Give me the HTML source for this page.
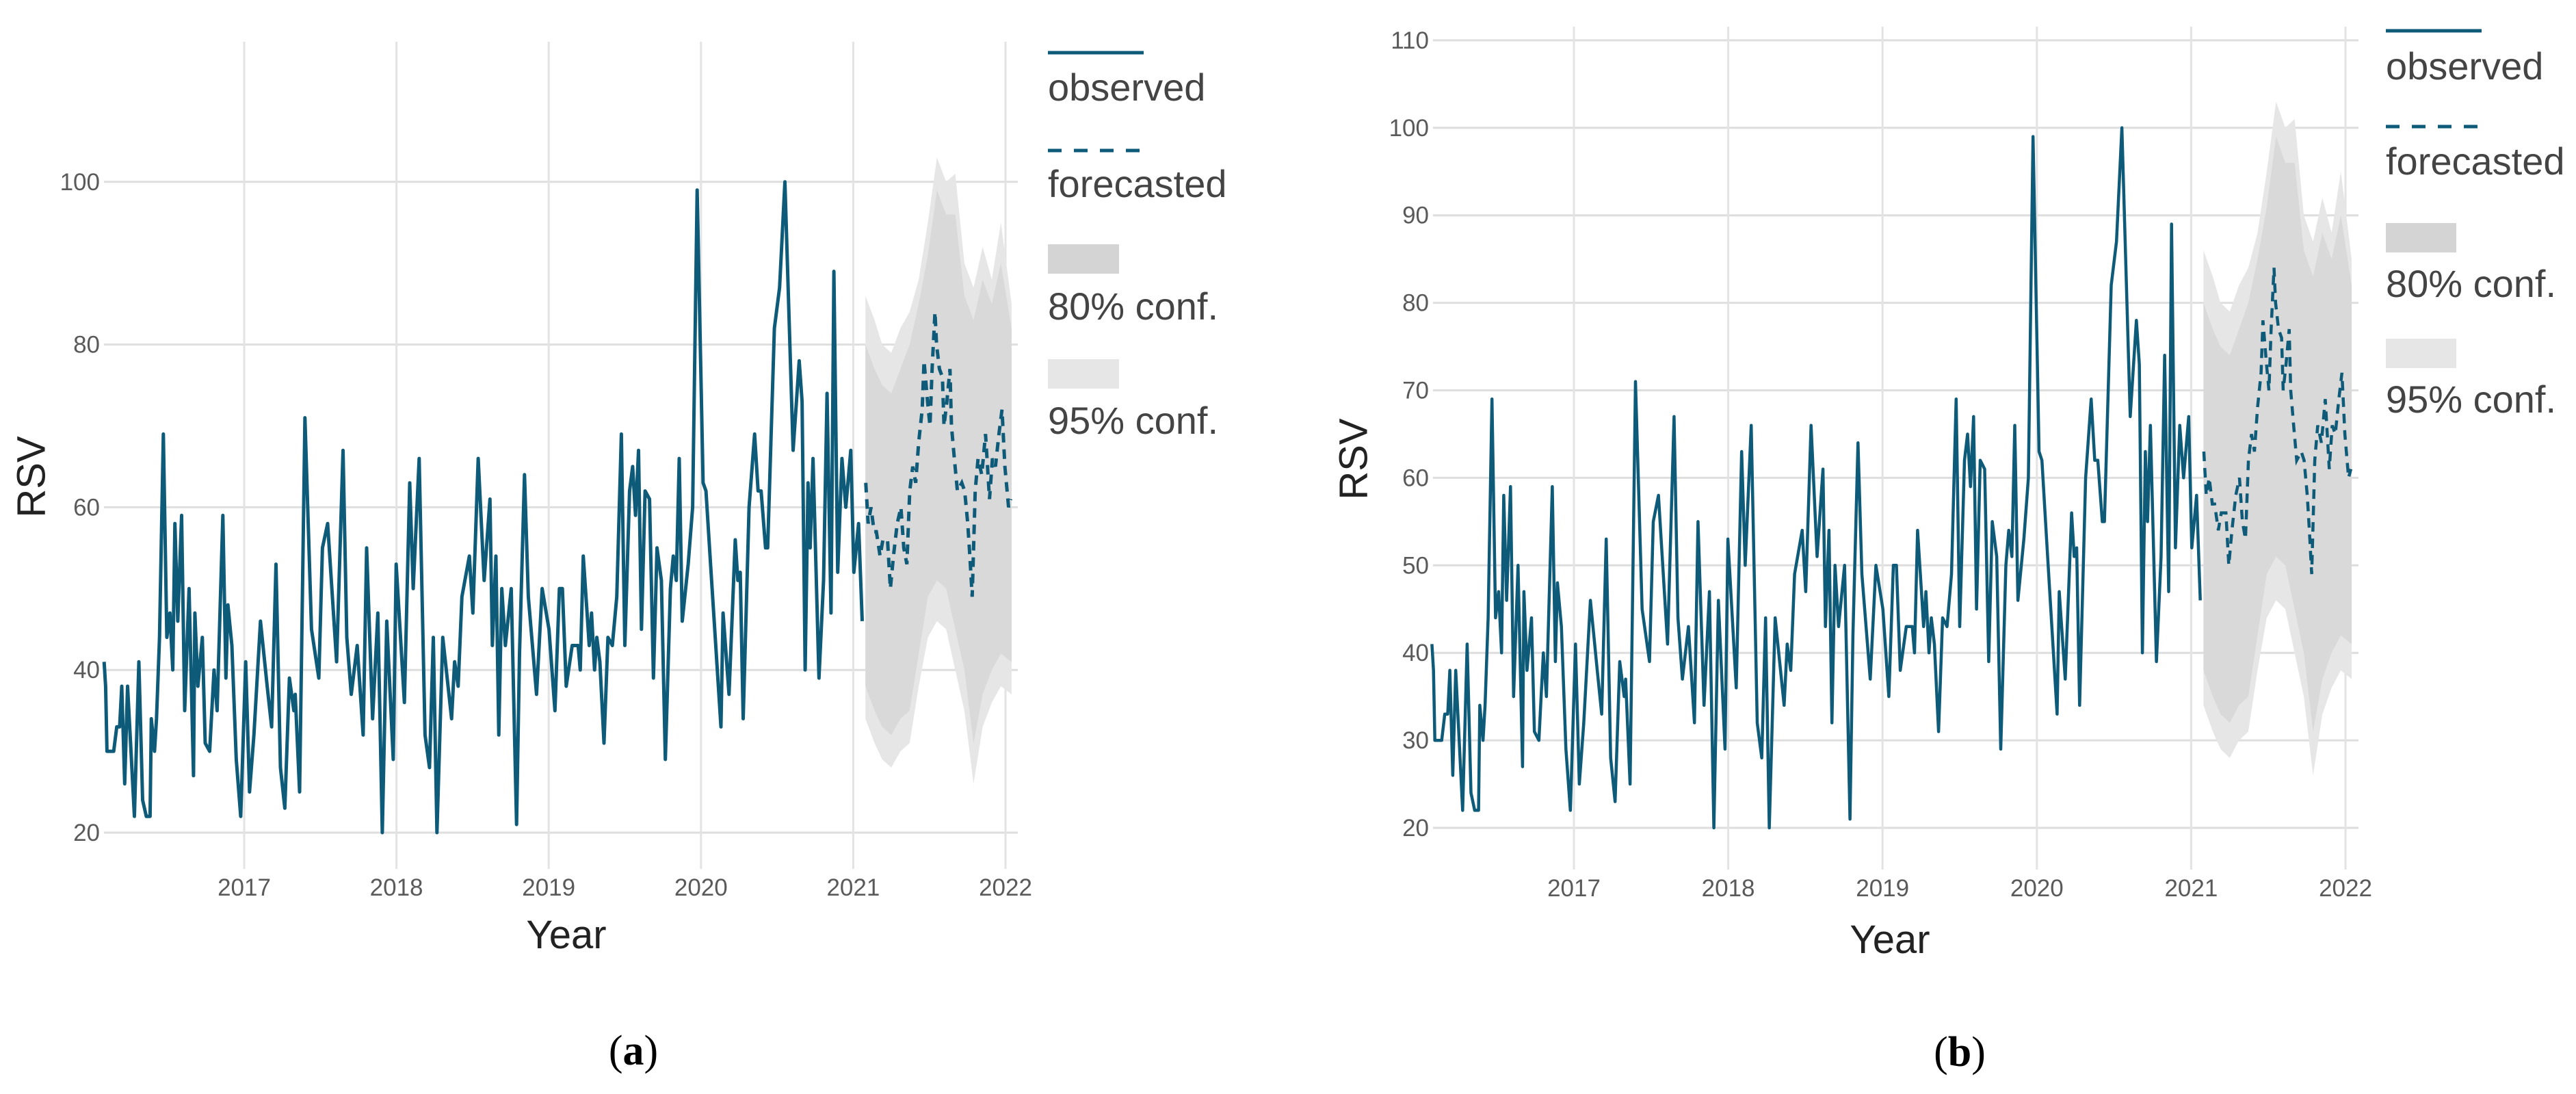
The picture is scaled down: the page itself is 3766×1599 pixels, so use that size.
<!DOCTYPE html>
<html><head><meta charset="utf-8"><style>
html,body{margin:0;padding:0;background:#fff;}
svg{display:block;font-family:"Liberation Sans",sans-serif;}
</style></head>
<body>
<svg id="chart" width="3766" height="1599" viewBox="0 0 3766 1599" xmlns="http://www.w3.org/2000/svg">
<g id="panelA"></g>
<g id="panelB"></g>
</svg>
<script>
const obsDates = [2016.08,2016.09,2016.099,2016.143,2016.163,2016.182,2016.196,2016.215,2016.234,2016.279,2016.308,2016.333,2016.357,2016.382,2016.390,2016.411,2016.424,2016.444,2016.469,2016.492,2016.512,2016.531,2016.545,2016.564,2016.589,2016.609,2016.638,2016.667,2016.676,2016.696,2016.725,2016.744,2016.773,2016.802,2016.822,2016.860,2016.880,2016.893,2016.919,2016.948,2016.977,2017.010,2017.035,2017.064,2017.107,2017.151,2017.180,2017.209,2017.238,2017.267,2017.297,2017.326,2017.335,2017.364,2017.399,2017.442,2017.490,2017.514,2017.548,2017.607,2017.649,2017.674,2017.703,2017.742,2017.781,2017.804,2017.843,2017.878,2017.907,2017.936,2017.979,2017.998,2018.052,2018.087,2018.110,2018.149,2018.188,2018.217,2018.242,2018.266,2018.304,2018.362,2018.382,2018.405,2018.430,2018.479,2018.502,2018.537,2018.576,2018.614,2018.630,2018.653,2018.672,2018.692,2018.715,2018.754,2018.789,2018.808,2018.841,2018.866,2018.920,2018.957,2019.002,2019.041,2019.070,2019.090,2019.115,2019.154,2019.193,2019.207,2019.227,2019.252,2019.266,2019.281,2019.301,2019.316,2019.336,2019.363,2019.389,2019.418,2019.447,2019.477,2019.500,2019.531,2019.551,2019.570,2019.590,2019.609,2019.633,2019.662,2019.688,2019.711,2019.740,2019.766,2019.799,2019.818,2019.838,2019.857,2019.877,2019.916,2019.945,2019.975,2020.014,2020.033,2020.063,2020.131,2020.145,2020.184,2020.225,2020.242,2020.258,2020.277,2020.316,2020.352,2020.375,2020.395,2020.424,2020.438,2020.482,2020.516,2020.551,2020.605,2020.645,2020.664,2020.684,2020.703,2020.717,2020.736,2020.775,2020.805,2020.828,2020.854,2020.873,2020.898,2020.926,2020.951,2020.984,2021.004,2021.035,2021.059];
const obsValues = [41,38,30,30,33,33,38,26,38,22,41,24,22,22,34,30,34,44,69,44,47,40,58,46,59,35,50,27,47,38,44,31,30,40,35,59,39,48,43,29,22,41,25,32,46,38,33,53,28,23,39,35,37,25,71,45,39,55,58,41,67,44,37,43,32,55,34,47,20,46,29,53,36,63,50,66,32,28,44,20,44,34,41,38,49,54,47,66,51,61,43,54,32,50,43,50,21,42,64,49,37,50,45,35,50,50,38,43,43,40,54,47,43,47,40,44,41,31,44,43,49,69,43,62,65,59,67,45,62,61,39,55,51,29,50,54,51,66,46,53,60,99,63,62,53,33,47,37,56,51,52,34,60,69,62,62,55,55,82,87,100,67,78,73,40,63,55,66,39,51,74,47,89,52,66,60,67,52,58,46];
const fcDates = [2021.082,2021.098,2021.117,2021.137,2021.152,2021.176,2021.195,2021.225,2021.244,2021.264,2021.289,2021.313,2021.332,2021.352,2021.371,2021.391,2021.410,2021.430,2021.453,2021.465,2021.488,2021.504,2021.518,2021.537,2021.547,2021.566,2021.586,2021.596,2021.615,2021.635,2021.645,2021.664,2021.684,2021.713,2021.732,2021.752,2021.766,2021.781,2021.801,2021.820,2021.844,2021.869,2021.895,2021.914,2021.934,2021.957,2021.977,2021.996,2022.020,2022.035];
const fcValues = [63,58,60,57,57,54,56,56,50,54,58,60,55,53,62,65,63,68,72,78,73,70,77,84,80,77,76,70,73,77,70,66,62,63,62,58,54,49,62,66,64,69,61,66,65,69,72,65,60,61];
const bandDates = [2021.08,2021.14,2021.19,2021.25,2021.31,2021.37,2021.43,2021.49,2021.55,2021.61,2021.67,2021.73,2021.79,2021.85,2021.91,2021.97,2022.04];
const hi95 = [86,83,80,79,82,84,88,95,103,100,101,90,87,92,88,95,85];
const lo95 = [34,31,29,28,30,31,38,44,46,45,40,35,26,33,36,38,37];
const hi80 = [80,77,75,74,77,80,85,91,99,96,96,86,83,88,85,90,82];
const lo80 = [38,35,33,32,34,35,42,49,51,50,45,40,31,37,40,42,41];
const xTicks = [2017,2018,2019,2020,2021,2022];
const yTicksA = [20,40,60,80,100];
const yTicksB = [20,30,40,50,60,70,80,90,100,110];

const NS = "http://www.w3.org/2000/svg";
function mk(parent, tag, attrs, text){
  const e = document.createElementNS(NS, tag);
  for (const k in attrs) e.setAttribute(k, attrs[k]);
  if (text !== undefined) e.textContent = text;
  parent.appendChild(e);
  return e;
}
const TEAL = "#0e5a79";

function drawPanel(g, cfg){
  const X = d => cfg.x2017 + (d - 2017) * cfg.pxYear;
  const Y = v => cfg.y0 - (v - cfg.v0) * cfg.pxUnit;
  for (const t of cfg.yTicks){
    const l = mk(g,'line',{x1:cfg.left,x2:cfg.right,y1:Y(t),y2:Y(t),stroke:'#dedede','stroke-width':3});
    
    
    const tx = mk(g,'text',{x:cfg.left-6,y:Y(t)+12,'text-anchor':'end','font-size':35,fill:'#5a5a5a'}, String(t));
    
    
  }
  for (const t of xTicks){
    const l = mk(g,'line',{x1:X(t),x2:X(t),y1:cfg.gTop,y2:cfg.gBot,stroke:'#e3e3e3','stroke-width':3});
    
    
    const tx = mk(g,'text',{x:X(t),y:cfg.xLabY,'text-anchor':'middle','font-size':35,fill:'#5a5a5a'}, String(t));
    
    
  }
  const bandPath = (hi, lo) => {
    let s = '';
    bandDates.forEach((d,i)=>{ s += (i?'L':'M') + X(d).toFixed(1) + ',' + Y(hi[i]).toFixed(1); });
    for (let i = bandDates.length-1; i >= 0; i--) s += 'L' + X(bandDates[i]).toFixed(1) + ',' + Y(lo[i]).toFixed(1);
    return s + 'Z';
  };
  const b95 = mk(g,'path',{d:bandPath(hi95,lo95),fill:'#e6e6e6'});
  
  
  const b80 = mk(g,'path',{d:bandPath(hi80,lo80),fill:'#d9d9d9'});
  
  
  const obs = mk(g,'polyline',{points:obsDates.map((d,i)=>X(d).toFixed(1)+','+Y(obsValues[i]).toFixed(1)).join(' '),fill:'none',stroke:TEAL,'stroke-width':cfg.lw,'stroke-linejoin':'round'});
  
  
  const fc = mk(g,'polyline',{points:fcDates.map((d,i)=>X(d).toFixed(1)+','+Y(fcValues[i]).toFixed(1)).join(' '),fill:'none',stroke:TEAL,'stroke-width':cfg.lw,'stroke-dasharray':'14 10'});
  
  
  const yt = mk(g,'text',{x:cfg.rsvX,y:cfg.rsvY,'text-anchor':'middle','font-size':58,fill:'#222',transform:`rotate(-90 ${cfg.rsvX} ${cfg.rsvY})`,'dominant-baseline':'middle'},'RSV');
  
  
  const xt = mk(g,'text',{x:cfg.yearX,y:cfg.yearY,'text-anchor':'middle','font-size':58,fill:'#222'},'Year');
  
  
  const cap = mk(g,'text',{x:cfg.capX,y:cfg.capY,'text-anchor':'middle','font-size':62,fill:'#000','font-family':'Liberation Serif, serif'});
  
  
  mk(cap,'tspan',{},'(');
  mk(cap,'tspan',{'font-weight':'bold'},cfg.letter);
  mk(cap,'tspan',{},')');
  const L = cfg.legX;
  const lg = mk(g,'g',{});
  
  
  const e1 = mk(lg,'line',{x1:L,x2:L+140,y1:cfg.leg[0],y2:cfg.leg[0],stroke:TEAL,'stroke-width':5});
  
  
  const t1 = mk(lg,'text',{x:L,y:cfg.leg[1]+19,'font-size':56,fill:'#444'},'observed');
  
  
  const e2 = mk(lg,'line',{x1:L,x2:L+140,y1:cfg.leg[2],y2:cfg.leg[2],stroke:TEAL,'stroke-width':5,'stroke-dasharray':'20 18'});
  
  
  const t2 = mk(lg,'text',{x:L,y:cfg.leg[3]+19,'font-size':56,fill:'#444'},'forecasted');
  
  
  const e3 = mk(lg,'rect',{x:L,y:cfg.leg[4],width:cfg.boxW,height:43,fill:'#d4d4d4'});
  
  
  const t3 = mk(lg,'text',{x:L,y:cfg.leg[5]+19,'font-size':56,fill:'#444'},'80% conf.');
  
  
  const e4 = mk(lg,'rect',{x:L,y:cfg.leg[6],width:cfg.boxW,height:43,fill:'#e6e6e6'});
  
  
  const t4 = mk(lg,'text',{x:L,y:cfg.leg[7]+19,'font-size':56,fill:'#444'},'95% conf.');
  
  
}

drawPanel(document.getElementById('panelA'), {
  x2017:357, pxYear:222.6, y0:1217, v0:20, pxUnit:11.89,
  left:152, right:1488, gTop:61, gBot:1270, xLabY:1309, yTicks:yTicksA, lw:5,
  rsvX:50, rsvY:697, yearX:828, yearY:1386, capX:926, capY:1556, letter:'a',
  legX:1532, boxW:104, leg:[77,128,220,269,357,448,525,615]
});
drawPanel(document.getElementById('panelB'), {
  x2017:2301, pxYear:225.6, y0:1210, v0:20, pxUnit:12.79,
  left:2095, right:3448, gTop:39, gBot:1271, xLabY:1310, yTicks:yTicksB, lw:4.5,
  rsvX:1983, rsvY:671, yearX:2763, yearY:1393, capX:2865, capY:1558, letter:'b',
  legX:3488, boxW:103, leg:[45,97,185,236,326,415,495,584]
});
</script>
</body></html>
